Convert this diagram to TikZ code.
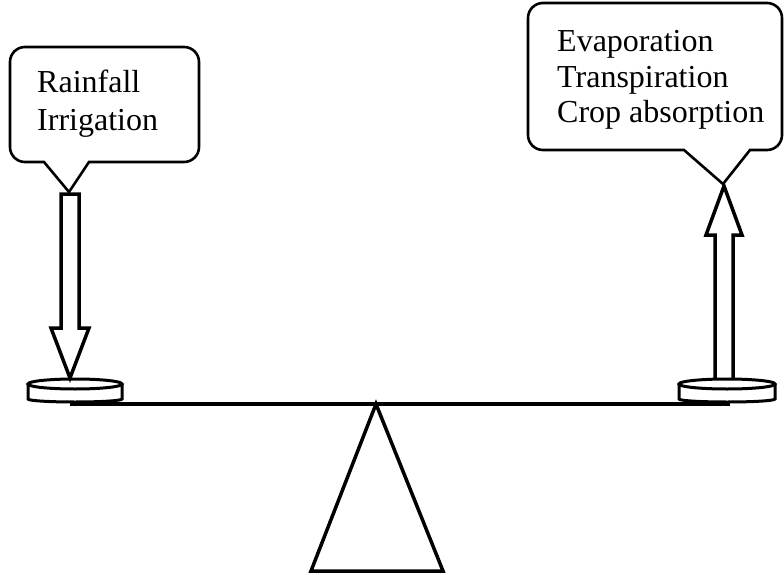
\documentclass[tikz,border=0pt]{standalone}
\usepackage{fontspec}
\setmainfont{Liberation Serif}
\begin{document}
\begin{tikzpicture}[x=1pt,y=-1pt,
  thickline/.style={line width=3.5pt,line join=miter},
  bubble/.style={line width=2.6pt,fill=white,line join=miter},
  lbl/.style={anchor=base west,inner sep=0pt,font=\fontsize{32}{38}\selectfont},
  hollow/.style={line width=3.5pt,fill=white,line join=miter}]
\useasboundingbox (0,0) rectangle (784,575);
% fulcrum
\coordinate (apex) at (376,404);
\draw[thickline] (apex) -- (311,571) -- (443,571) -- cycle;
% beam
\coordinate (bl) at (70,404);
\coordinate (br) at (730,404);
\draw[line width=3.4pt] (bl) -- (br);
% left pan
\coordinate (lp) at (75,384);
\draw[hollow,line width=3pt] ([xshift=-47pt]lp) -- ++(0,15) arc[start angle=180,end angle=360,x radius=47,y radius=-3] -- ++(0,-15);
\draw[hollow,line width=3pt] (lp) ellipse[x radius=47,y radius=5];
% right pan
\coordinate (rp) at (727,384);
\draw[hollow,line width=3pt] ([xshift=-48pt]rp) -- ++(0,15) arc[start angle=180,end angle=360,x radius=48,y radius=-3] -- ++(0,-15);
% right arrow (up)
\coordinate (rtip) at (724,186);
\draw[hollow] (715,378) -- (715,235) -- (706,235) -- (rtip) -- (742,235) -- (733,235) -- (733,378);
\draw[hollow,line width=3pt] (rp) ellipse[x radius=48,y radius=5];
% left arrow (down)
\coordinate (ltip) at (70,378);
\draw[hollow] (61,194) -- (61,328) -- (51,328) -- (ltip) -- (89,328) -- (79,328) -- (79,194) -- cycle;
% left callout
\coordinate (lpt) at (69,192);
\draw[bubble] (lpt) -- (44,162) -- (25,162) arc[start angle=90,end angle=180,radius=15]
  -- (10,62) arc[start angle=180,end angle=270,radius=15]
  -- (184,47) arc[start angle=270,end angle=360,radius=15]
  -- (199,147) arc[start angle=0,end angle=90,radius=15]
  -- (89,162) -- cycle;
\node[lbl] (rain) at (37,93) {Rainfall};
\node[lbl] (irr) at (37,131) {Irrigation};
% right callout
\coordinate (rpt) at (723,184);
\draw[bubble] (rpt) -- (684,150) -- (543,150) arc[start angle=90,end angle=180,radius=15]
  -- (528,18) arc[start angle=180,end angle=270,radius=15]
  -- (767,3) arc[start angle=270,end angle=360,radius=15]
  -- (782,135) arc[start angle=0,end angle=90,radius=15]
  -- (750,150) -- cycle;
\node[lbl] (evap) at (557,52) {Evaporation};
\node[lbl] (trans) at (557,88) {Transpiration};
\node[lbl] (crop) at (557,123) {Crop absorption};
\end{tikzpicture}
\end{document}
